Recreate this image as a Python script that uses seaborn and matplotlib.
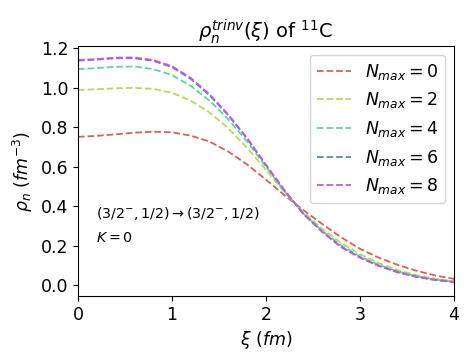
import seaborn as sns
import pandas as pd
import numpy as np
import matplotlib.pyplot as plt

# radial grid (fm)
xi = [0.0, 0.2, 0.4, 0.6, 0.8, 1.0, 1.2, 1.4, 1.6, 1.8, 2.0,
      2.2, 2.4, 2.6, 2.8, 3.0, 3.2, 3.4, 3.6, 3.8, 4.0]

# densities for each Nmax
rho_n0 = [0.752, 0.757, 0.765, 0.773, 0.778, 0.775, 0.758, 0.728, 0.677, 0.612, 0.535,
          0.455, 0.380, 0.310, 0.243, 0.185, 0.140, 0.104, 0.074, 0.050, 0.033]
rho_n2 = [0.989, 0.993, 0.998, 1.000, 0.995, 0.975, 0.935, 0.875, 0.795, 0.695, 0.585,
          0.470, 0.370, 0.285, 0.215, 0.158, 0.113, 0.078, 0.052, 0.034, 0.021]
rho_n4 = [1.095, 1.100, 1.107, 1.108, 1.095, 1.065, 1.010, 0.935, 0.840, 0.728, 0.600,
          0.475, 0.363, 0.275, 0.202, 0.147, 0.104, 0.071, 0.047, 0.030, 0.018]
rho_n6 = [1.138, 1.143, 1.150, 1.150, 1.137, 1.105, 1.045, 0.962, 0.860, 0.742, 0.607,
          0.478, 0.361, 0.271, 0.195, 0.142, 0.100, 0.068, 0.044, 0.028, 0.017]
rho_n8 = [1.141, 1.146, 1.153, 1.154, 1.141, 1.110, 1.050, 0.967, 0.864, 0.745, 0.610,
          0.480, 0.360, 0.270, 0.193, 0.140, 0.098, 0.066, 0.043, 0.027, 0.017]

nmax = [0, 2, 4, 6, 8]
curves = [rho_n0, rho_n2, rho_n4, rho_n6, rho_n8]

data = pd.DataFrame({
    'xi': np.tile(xi, len(nmax)),
    'rho': np.concatenate(curves),
    'Nmax': np.repeat([r'$N_{max}=%d$' % n for n in nmax], len(xi)),
})

fig, ax = plt.subplots(figsize=(4.77, 3.58), dpi=100)
fig.subplots_adjust(left=0.1635, right=0.952, bottom=0.173, top=0.8715)

colors = sns.color_palette('hls', 5)
sns.lineplot(data=data, x='xi', y='rho', hue='Nmax', palette=colors,
             linestyle='--', linewidth=1.3, ax=ax)

ax.set_xlim(0, 4)
ax.set_ylim(-0.054, 1.212)
ax.set_xticks([0, 1, 2, 3, 4])
ax.set_yticks([0.0, 0.2, 0.4, 0.6, 0.8, 1.0, 1.2])
ax.tick_params(labelsize=12.5)

ax.set_xlabel(r'$\xi\ (fm)$', fontsize=12.5)
ax.set_ylabel(r'$\rho_n\ (fm^{-3})$', fontsize=12.5)
ax.set_title(r'$\rho_n^{trinv}(\xi)$ of $^{11}$C', fontsize=14)

ax.text(0.19, 0.365, r'$(3/2^{-},1/2)\rightarrow(3/2^{-},1/2)$', fontsize=10.3, va='center')
ax.text(0.19, 0.24, r'$K=0$', fontsize=10.3, va='center')

ax.legend(loc='upper right', fontsize=12.5, title=None)

fig.savefig('out.png', dpi=100)
